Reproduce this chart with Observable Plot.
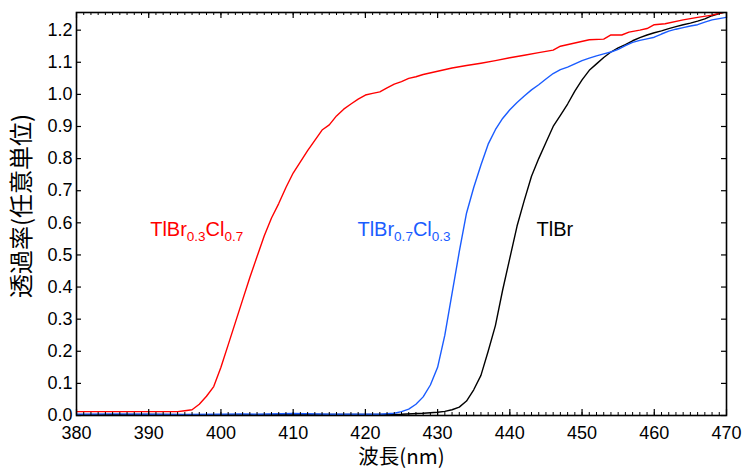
<!DOCTYPE html>
<html>
<head>
<meta charset="utf-8">
<script src="https://cdn.jsdelivr.net/npm/d3@7"></script>
<script src="https://cdn.jsdelivr.net/npm/@observablehq/plot@0.6"></script>
<style>
  html, body { margin: 0; padding: 0; background: #fff; }
  #chart svg { display: block; }
</style>
</head>
<body>
<div id="chart"></div>
<script>
// ---- data ----
const redWl = [380,385,390,394,395,396,397,398,399,400,401,402,403,404,405,406,407,408,409,410,411,412,413,414,415,416,417,418,419,420,421,422,423,424,425,426,427,428,430,432,434,436,438,440,442,444,446,447,449,451,453,454,455.5,456.5,458,459,460,461.5,464,466,468,470];
const redT  = [0.012,0.012,0.012,0.012,0.015,0.018,0.035,0.06,0.09,0.15,0.22,0.29,0.36,0.43,0.495,0.56,0.615,0.66,0.71,0.755,0.79,0.825,0.857,0.889,0.905,0.933,0.954,0.97,0.985,0.998,1.003,1.008,1.02,1.032,1.04,1.05,1.055,1.062,1.072,1.082,1.09,1.097,1.105,1.114,1.122,1.13,1.138,1.15,1.16,1.17,1.172,1.185,1.185,1.194,1.2,1.205,1.217,1.22,1.232,1.24,1.247,1.258];

const blueWl = [380,385,390,395,400,403,405,410,415,420,422,424,425,426,427,428,429,430,431,432,433,434,435,436,437,438,439,440,441,442,443,444,445,446,447,448,449,450,451,452,453,454,455,456,457,458,459,460,461,462,463,464,465,466,467,468,469,470];
const blueT  = [0.004,0.005,0.004,0.003,0.004,0.005,0.004,0.006,0.004,0.004,0.004,0.007,0.012,0.02,0.035,0.058,0.095,0.15,0.25,0.38,0.51,0.63,0.71,0.78,0.845,0.89,0.925,0.952,0.975,0.995,1.014,1.03,1.048,1.065,1.077,1.085,1.095,1.105,1.113,1.12,1.126,1.132,1.14,1.152,1.162,1.168,1.173,1.178,1.188,1.197,1.203,1.208,1.213,1.217,1.225,1.232,1.236,1.24];

const blackWl = [380,390,400,410,420,425,428,430,431,432,433,434,435,436,437,438,439,440,441,442,443,444,445,446,447,448,449,450,451,452,453,454,455,456,457,458,459,460,461,462,463,464,465,466,467,468,469,470];
const blackT  = [0.002,0.003,0.002,0.003,0.003,0.004,0.007,0.01,0.013,0.018,0.026,0.045,0.08,0.125,0.2,0.28,0.39,0.49,0.59,0.67,0.745,0.8,0.85,0.9,0.935,0.97,1.01,1.045,1.075,1.095,1.115,1.132,1.145,1.155,1.167,1.177,1.185,1.192,1.198,1.205,1.211,1.217,1.222,1.228,1.235,1.245,1.252,1.258];

const xMajor = [380,390,400,410,420,430,440,450,460,470];
const xMinor = d3.range(380, 471, 1);
const yMajor = [0,0.1,0.2,0.3,0.4,0.5,0.6,0.7,0.8,0.9,1.0,1.1,1.2];

// "_" marks the start and end of a subscript
const labelNames  = ["TlBr_0.3_Cl_0.7", "TlBr_0.7_Cl_0.3", "TlBr"];
const labelX      = [390.2, 418.9, 443.7];
const labelY      = [0.58, 0.58, 0.58];
const labelColors = ["#ff0000", "#1a5cff", "#000000"];

const xTitle = "波長(nm)";
const yTitle = "透過率(任意単位)";

// ---- build ----
const zip = (xs, ys) => xs.map((x, i) => ({x, y: ys[i]}));
const red = zip(redWl, redT), blue = zip(blueWl, blueT), black = zip(blackWl, blackT);
const labels = labelNames.map((t, i) => ({t, x: labelX[i], y: labelY[i], c: labelColors[i]}));

const W = 743, H = 468;
const M = {top: 12, right: 17, bottom: 53, left: 76};
const FH = H - M.top - M.bottom;
const FW = W - M.left - M.right;
const font = "Liberation Sans, Arial, Helvetica, sans-serif";
const cjk = "Noto Sans CJK JP, sans-serif";

const plot = Plot.plot({
  width: W, height: H,
  marginTop: M.top, marginRight: M.right, marginBottom: M.bottom, marginLeft: M.left,
  style: {fontFamily: font, fontSize: "18px", color: "#000", background: "#fff"},
  x: {domain: [380, 470]},
  y: {domain: [0, 1.255]},
  marks: [
    Plot.line(black, {x: "x", y: "y", stroke: "#000", strokeWidth: 1.4, clip: true}),
    Plot.line(blue, {x: "x", y: "y", stroke: "#1a5cff", strokeWidth: 1.4, clip: true}),
    Plot.line(red, {x: "x", y: "y", stroke: "#ff0000", strokeWidth: 1.4, clip: true}),
    // inward ticks
    Plot.tickX(xMinor, {x: d => d, insetTop: FH - 3, stroke: "#000", strokeWidth: 1}),
    Plot.tickX(xMinor, {x: d => d, insetBottom: FH - 3, stroke: "#000", strokeWidth: 1}),
    Plot.tickX(xMajor, {x: d => d, insetTop: FH - 6, stroke: "#000", strokeWidth: 1.2}),
    Plot.tickX(xMajor, {x: d => d, insetBottom: FH - 6, stroke: "#000", strokeWidth: 1.2}),
    Plot.tickY(yMajor, {y: d => d, insetRight: FW - 5, stroke: "#000", strokeWidth: 1.2}),
    Plot.tickY(yMajor, {y: d => d, insetLeft: FW - 5, stroke: "#000", strokeWidth: 1.2}),
    Plot.frame({stroke: "#000", strokeWidth: 1.6}),
    Plot.axisX({ticks: xMajor, tickSize: 0, tickPadding: 11, label: null, fontSize: 18}),
    Plot.axisY({ticks: yMajor, tickSize: 0, tickPadding: 4, tickFormat: d3.format(".1f"), label: null, fontSize: 18}),
    Plot.text([xTitle], {frameAnchor: "bottom", dy: 42, textAnchor: "middle", lineAnchor: "middle", fontFamily: cjk, fontSize: 20.5, fill: "#000"}),
    Plot.text([yTitle], {frameAnchor: "left", dx: -54, dy: -8, rotate: -90, textAnchor: "middle", lineAnchor: "middle", fontFamily: cjk, fontSize: 24, fill: "#000"}),
    Plot.text(labels, {x: "x", y: "y", text: "t", fill: "c", textAnchor: "start", lineAnchor: "middle", fontSize: 20})
  ]
});

// subscripts
d3.select(plot).selectAll("text").each(function() {
  const s = this.textContent;
  if (!s || s.indexOf("_") < 0) return;
  const parts = s.split("_");
  const el = d3.select(this);
  el.text(null);
  parts.forEach((p, i) => {
    if (!p) return;
    const ts = el.append("tspan").text(p);
    if (i % 2 === 1) {
      ts.attr("font-size", 13.5).attr("dy", "5");
    } else if (i > 0) {
      ts.attr("dy", "-5");
    }
  });
});

document.getElementById("chart").appendChild(plot);
</script>
</body>
</html>
